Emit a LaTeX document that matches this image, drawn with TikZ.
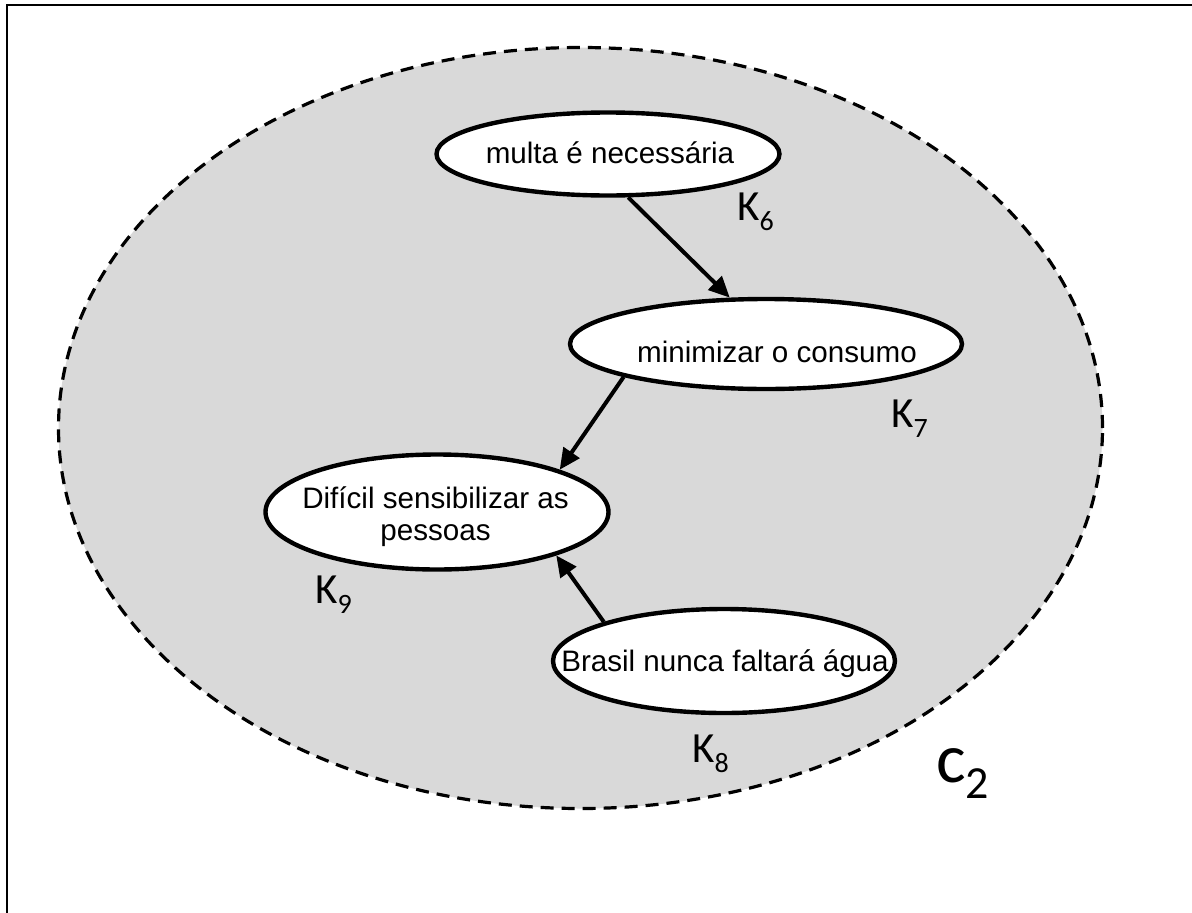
\documentclass[tikz,border=0pt]{standalone}
\usepackage{fontspec}
\setmainfont{Liberation Sans}
\newfontfamily\calfont{Carlito}
\usetikzlibrary{shapes.geometric,arrows.meta}
\definecolor{regiongray}{HTML}{D9D9D9}
\tikzset{
  region/.style={ellipse, draw, dash pattern=on 13pt off 8pt, line width=3.2pt,
    fill=regiongray, inner sep=0pt},
  concept/.style={ellipse, draw, line width=4.4pt, fill=white, inner sep=0pt},
  ctext/.style={font=\fontsize{29.6}{32}\selectfont, inner sep=0pt, anchor=base, align=center},
  klabel/.style={font=\calfont\fontsize{43}{45}\selectfont, inner sep=0pt, anchor=base west},
  link/.style={line width=4pt, -{Triangle[length=21pt,width=19pt]}},
}
\newcommand{\ksub}[1]{\raisebox{-10pt}{\fontsize{28}{30}\selectfont #1}}
\begin{document}
\begin{tikzpicture}[x=1pt, y=-1pt]
  \useasboundingbox (0,0) rectangle (1192,913);
  % page frame
  \draw[line width=2pt] (7,913) -- (7,5) -- (1192,5);

  % cluster region
  \node[region, minimum width=1044pt, minimum height=761pt] (c2) at (580.5,428) {};
  \node[font=\calfont\fontsize{70}{72}\selectfont, inner sep=0pt, anchor=base west]
    (c2lab) at (936,782) {c\raisebox{-16pt}{\fontsize{46}{48}\selectfont 2}};

  % concepts
  \node[concept, minimum width=343pt, minimum height=83pt] (k6) at (608,154) {};
  \node[concept, minimum width=392pt, minimum height=90pt] (k7) at (766,344) {};
  \node[concept, minimum width=343pt, minimum height=115pt] (k9) at (437,512) {};
  \node[concept, minimum width=342pt, minimum height=104pt] (k8) at (724,661) {};

  \node[ctext] (t6) at (610,163) {multa é necessária};
  \node[ctext] (t7) at (777,362) {minimizar o consumo};
  \node[ctext] (t9) at (435.5,540) {Difícil sensibilizar as\\pessoas};
  \node[ctext] (t8) at (725,671) {Brasil nunca faltará água};

  % concept labels
  \node[klabel] (l6) at (737,220) {K\ksub{6}};
  \node[klabel] (l7) at (891,427) {K\ksub{7}};
  \node[klabel] (l9) at (315,603) {K\ksub{9}};
  \node[klabel] (l8) at (692,762) {K\ksub{8}};

  % links
  \draw[link] (k6.-65) -- (k7.128.5);
  \draw[link] (k7.193.6) -- (k9.19.7);
  \draw[link] (k8.162.3) -- (k9.-20.5);
\end{tikzpicture}
\end{document}
